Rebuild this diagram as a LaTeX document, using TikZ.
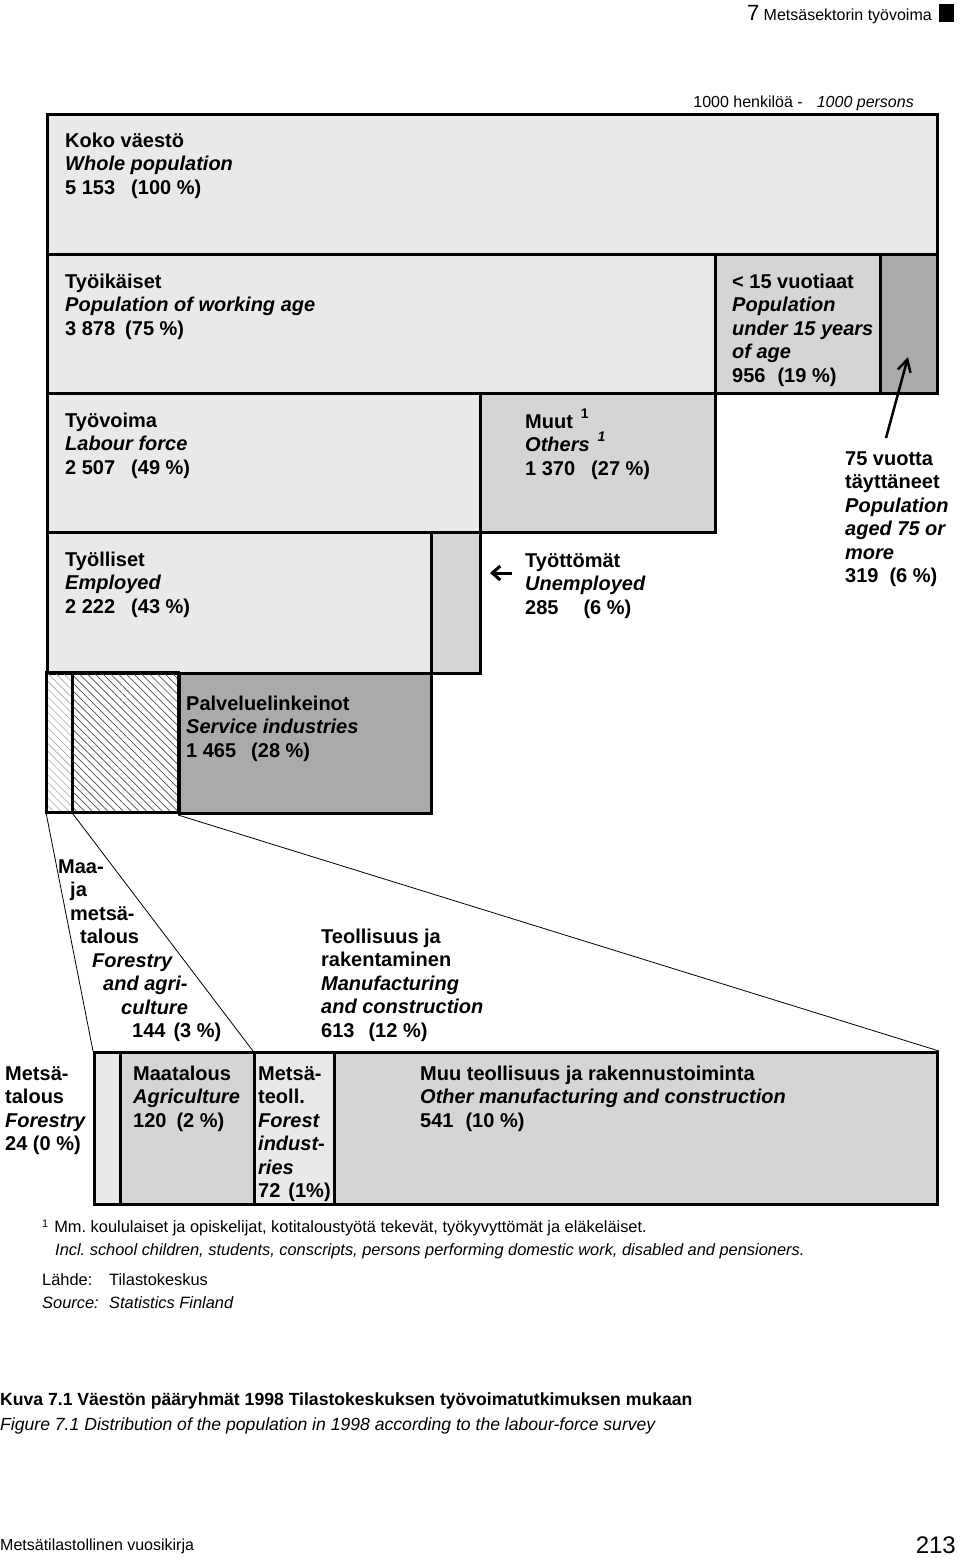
\documentclass[tikz,border=0pt]{standalone}
\usepackage{fontspec}
\setmainfont{Liberation Sans}
\usetikzlibrary{patterns.meta,arrows.meta}
\definecolor{lightg}{HTML}{E9E9E9}
\definecolor{midg}{HTML}{D5D5D5}
\definecolor{darkg}{HTML}{AAAAAA}
\newcommand{\supone}[1]{\raisebox{10pt}{\fontsize{14}{14}\selectfont #1}}
\frenchspacing
\begin{document}
\begin{tikzpicture}[x=1pt,y=-1pt,
  box/.style={draw=black,line width=3pt,inner sep=0pt,anchor=north west},
  hatchlight/.style={box,pattern={Lines[angle=-45,distance=5.5pt,line width=0.6pt]},pattern color=black!35},
  hatchdark/.style={box,pattern={Lines[angle=-45,distance=5.5pt,line width=0.7pt]},pattern color=black!70},
  txt/.style={anchor=base west,inner sep=0pt,align=left,font=\fontsize{20}{23.5}\selectfont\bfseries},
  note/.style={anchor=base west,inner sep=0pt,align=left,font=\fontsize{16.4}{23}\selectfont},
  link/.style={line width=0.8pt},
  bigarr/.style={line width=2.5pt,-{Straight Barb[length=12pt,width=13pt]}},
  smallarr/.style={line width=3pt,-{Straight Barb[length=8pt,width=14pt]}}]
\useasboundingbox (0,0) rectangle (960,1559);

% header
\node[anchor=base east,inner sep=0pt,font=\fontsize{16}{16}\selectfont] (hdr) at (932,20) {{\fontsize{22}{22}\selectfont 7} Metsäsektorin työvoima};
\node[fill=black,minimum width=15pt,minimum height=18pt,inner sep=0pt,anchor=north west] (sq) at (939,4) {};
\node[anchor=base east,inner sep=0pt,font=\fontsize{16}{16}\selectfont] (unit) at (914,107) {1000 henkilöä -\hspace{14pt}\textit{1000 persons}};

% boxes
\node[box,fill=lightg,minimum width=890pt,minimum height=140pt] (koko) at (46,113) {};
\node[box,fill=lightg,minimum width=668pt,minimum height=139pt] (tyoik) at (46,253) {};
\node[box,fill=midg,minimum width=165pt,minimum height=139pt] (alle15) at (714,253) {};
\node[box,fill=darkg,minimum width=57pt,minimum height=139pt] (yli75) at (879,253) {};
\node[box,fill=lightg,minimum width=433pt,minimum height=139pt] (tyov) at (46,392) {};
\node[box,fill=midg,minimum width=235pt,minimum height=139pt] (muut) at (479,392) {};
\node[box,fill=lightg,minimum width=384pt,minimum height=141pt] (tyoll) at (46,531) {};
\node[box,fill=midg,minimum width=49pt,minimum height=141pt] (tyott) at (430,531) {};
\node[hatchlight,minimum width=26pt,minimum height=140pt] (hatA) at (46,672) {};
\node[hatchdark,minimum width=106pt,minimum height=140pt] (hatB) at (72,672) {};
\node[box,fill=darkg,minimum width=252pt,minimum height=140pt] (palv) at (178,672) {};

\node[box,fill=lightg,minimum width=26pt,minimum height=152pt] (mets) at (93,1051) {};
\node[box,fill=midg,minimum width=134pt,minimum height=152pt] (maat) at (119,1051) {};
\node[box,fill=lightg,minimum width=80pt,minimum height=152pt] (mteoll) at (253,1051) {};
\node[box,fill=midg,minimum width=603pt,minimum height=152pt] (muu) at (333,1051) {};

\draw[link] (hatA.south west) -- (mets.north west);
\draw[link] (hatB.south west) -- (mteoll.north west);
\draw[link] (palv.south west) -- (muu.north east);

% texts in boxes (anchor = baseline of the last line)
\node[txt] (tkoko) at (65,194) {Koko väestö\\\textit{Whole population}\\5 153\hspace{16pt}(100 \%)};
\node[txt] (ttyoik) at (65,335) {Työikäiset\\\textit{Population of working age}\\3 878\hspace{10pt}(75 \%)};
\node[txt] (talle15) at (732,382) {< 15 vuotiaat\\\textit{Population}\\\textit{under 15 years}\\\textit{of age}\\956\hspace{12pt}(19 \%)};
\node[txt] (ttyov) at (65,474) {Työvoima\\\textit{Labour force}\\2 507\hspace{16pt}(49 \%)};
\node[txt] (tmuut) at (525,475) {Muut\hspace{8pt}\supone{1}\\\textit{Others}\hspace{8pt}\supone{\textit{1}}\\1 370\hspace{16pt}(27 \%)};
\node[txt] (ttyoll) at (65,613) {Työlliset\\\textit{Employed}\\2 222\hspace{16pt}(43 \%)};
\node[txt] (ttyott) at (525,614) {Työttömät\\\textit{Unemployed}\\285\hspace{25pt}(6 \%)};
\node[txt] (tyli75) at (845,582.5) {75 vuotta\\täyttäneet\\\textit{Population}\\\textit{aged 75 or}\\\textit{more}\\319\hspace{11pt}(6 \%)};
\node[txt] (tpalv) at (186,757) {Palveluelinkeinot\\\textit{Service industries}\\1 465\hspace{15pt}(28 \%)};

\node[txt] (tmaaja) at (58,1037.5) {Maa-\\\hspace*{12pt}ja\\\hspace*{12pt}metsä-\\\hspace*{22pt}talous\\\hspace*{34pt}\textit{Forestry}\\\hspace*{45pt}\textit{and agri-}\\\hspace*{63pt}\textit{culture}\\\hspace*{74pt}144\hspace{8pt}(3 \%)};
\node[txt] (tteoll) at (321,1037) {Teollisuus ja\\rakentaminen\\\textit{Manufacturing}\\\textit{and construction}\\613\hspace{14pt}(12 \%)};

\node[txt] (tmets) at (5,1150.5) {Metsä-\\talous\\\textit{Forestry}\\24 (0 \%)};
\node[txt] (tmaat) at (133,1127) {Maatalous\\\textit{Agriculture}\\120\hspace{10pt}(2 \%)};
\node[txt] (tmteoll) at (258,1197.5) {Metsä-\\teoll.\\\textit{Forest}\\\textit{indust-}\\\textit{ries}\\72\hspace{8pt}(1\%)};
\node[txt] (tmuu) at (420,1127) {Muu teollisuus ja rakennustoiminta\\\textit{Other manufacturing and construction}\\541\hspace{12pt}(10 \%)};

% arrows
\coordinate (a75s) at (886,438);
\coordinate (a75e) at (908,357);
\draw[bigarr] (a75s) -- (a75e);
\coordinate (aus) at (512,573);
\coordinate (aue) at (490,573);
\draw[smallarr] (aus) -- (aue);

% notes
\node[note] (fn) at (42,1255) {\raisebox{5pt}{\fontsize{11}{11}\selectfont 1}\hspace{6pt}Mm.\ koululaiset ja opiskelijat, kotitaloustyötä tekevät, työkyvyttömät ja eläkeläiset.\\\hspace*{13pt}\textit{Incl.\ school children, students, conscripts, persons performing domestic work, disabled and pensioners.}};
\node[note] (src) at (42,1308) {\makebox[67pt][l]{Lähde:}Tilastokeskus\\\makebox[67pt][l]{\textit{Source:}}\textit{Statistics Finland}};

% caption
\node[anchor=base west,inner sep=0pt,align=left,font=\fontsize{17.6}{25}\selectfont] (cap) at (0,1430) {\textbf{Kuva 7.1 Väestön pääryhmät 1998 Tilastokeskuksen työvoimatutkimuksen mukaan}\\\textit{Figure 7.1 Distribution of the population in 1998 according to the labour-force survey}};

% footer
\node[anchor=base west,inner sep=0pt,font=\fontsize{16}{16}\selectfont] (foot) at (0,1550) {Metsätilastollinen vuosikirja};
\node[anchor=base east,inner sep=0pt,font=\fontsize{24}{24}\selectfont] (pg) at (956,1553) {213};
\end{tikzpicture}
\end{document}
